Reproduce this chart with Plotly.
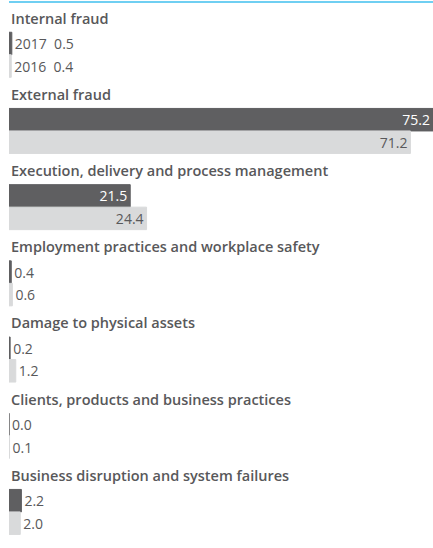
import plotly.graph_objects as go

# Operational risk loss events by category, share in %
categories = [
    "Internal fraud",
    "External fraud",
    "Execution, delivery and process management",
    "Employment practices and workplace safety",
    "Damage to physical assets",
    "Clients, products and business practices",
    "Business disruption and system failures",
]
values_2017 = [0.5, 75.2, 21.5, 0.4, 0.2, 0.0, 2.2]
values_2016 = [0.4, 71.2, 24.4, 0.6, 1.2, 0.1, 2.0]
years = ["2017", "2016"]

DARK = "#5f5f61"
LIGHT = "#d9dadb"
TEXT = "#58585a"
FONT = "Open Sans"

W, H = 433, 548
GROUP_STEP = 76.2
TITLE_Y0 = 18
BAR_H = 22.5

title_y = [TITLE_Y0 + GROUP_STEP * i for i in range(len(categories))]
y_2017 = [t + 25.5 for t in title_y]
y_2016 = [t + 48 for t in title_y]

xmax = max(values_2017 + values_2016)
inside_min = 10  # values above this get their label inside the bar


def labels(vals, year):
    out = []
    for i, v in enumerate(vals):
        s = f"{v:.1f}"
        if i == 0:
            s = f"{year}\u00a0 {s}"
        out.append(s)
    return out


def positions(vals):
    return ["inside" if v > inside_min else "outside" for v in vals]


def text_colors(vals, inside_color):
    return [inside_color if v > inside_min else TEXT for v in vals]


fig = go.Figure()
for vals, ys, color, year, in_col in [
    (values_2017, y_2017, DARK, years[0], "white"),
    (values_2016, y_2016, LIGHT, years[1], TEXT),
]:
    fig.add_trace(go.Bar(
        x=vals, y=ys, orientation="h", width=BAR_H,
        marker=dict(color=color, line=dict(color=color, width=1)),
        text=labels(vals, year), textposition=positions(vals),
        insidetextanchor="end",
        textfont=dict(family=FONT, size=14, color=text_colors(vals, in_col)),
        cliponaxis=False, hoverinfo="skip", name=year,
    ))

for name, ty in zip(categories, title_y):
    fig.add_annotation(
        x=0, xref="paper", y=ty, yref="y", xanchor="left", yanchor="middle",
        text=name, showarrow=False,
        font=dict(family=FONT, size=14.5, color=TEXT, weight=600),
    )

fig.add_shape(type="line", xref="paper", yref="y", x0=0, x1=1, y0=2, y1=2,
              line=dict(color="#3fbfee", width=1.5))

fig.update_layout(
    width=W, height=H, margin=dict(l=9, r=0, t=0, b=0),
    paper_bgcolor="white", plot_bgcolor="white",
    showlegend=False, barmode="overlay",
    xaxis=dict(range=[0, xmax], visible=False, fixedrange=True),
    yaxis=dict(range=[H, 0], visible=False, fixedrange=True),
    uniformtext=dict(minsize=14, mode="show"),
)

fig.write_html("out.html", config={"displayModeBar": False})
